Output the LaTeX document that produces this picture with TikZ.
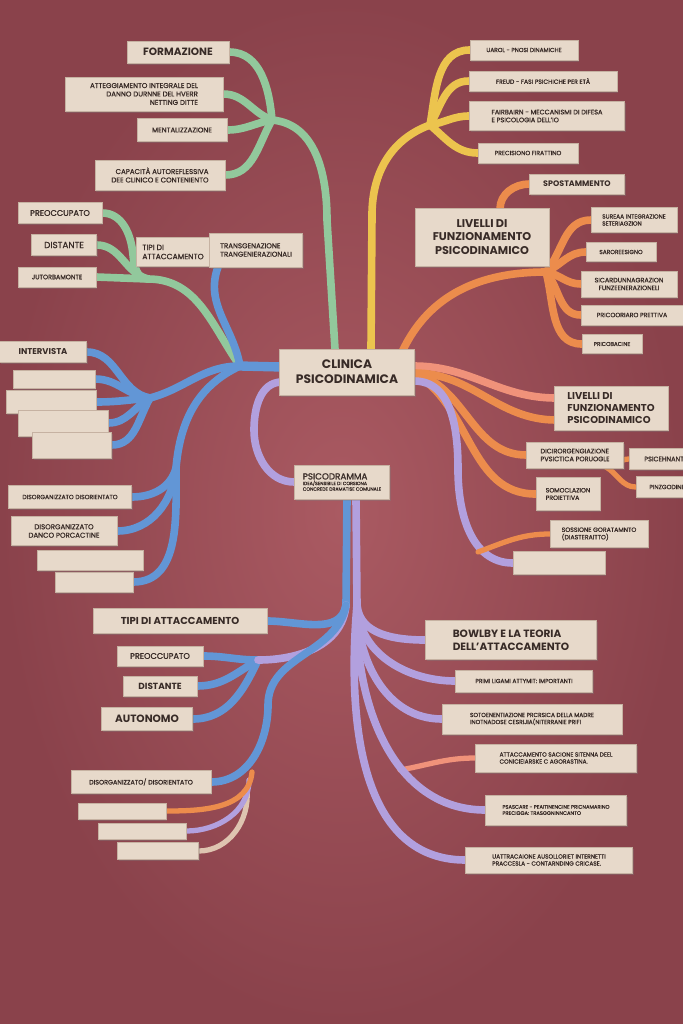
\documentclass[tikz,border=0pt]{standalone}
\usepackage{fontspec}
\setmainfont{Poppins}[UprightFeatures={FakeBold=1}]
\usetikzlibrary{shadows}
\pgfdeclarelayer{felt}
\pgfdeclarelayer{strands}
\pgfsetlayers{felt,strands,main}
\definecolor{feltmid}{RGB}{170,90,98}
\definecolor{feltedge}{RGB}{138,66,75}
\definecolor{cardbg}{RGB}{231,217,202}
\definecolor{cardedge}{RGB}{198,178,162}
\definecolor{ink}{RGB}{56,43,39}
\definecolor{sgreen}{RGB}{146,200,156}
\definecolor{syellow}{RGB}{236,196,78}
\definecolor{sorange}{RGB}{236,140,76}
\definecolor{ssalmon}{RGB}{240,146,122}
\definecolor{sblue}{RGB}{98,150,214}
\definecolor{spurple}{RGB}{178,160,222}
\definecolor{stan}{RGB}{222,196,176}

\begin{document}
\begin{tikzpicture}[x=0.03cm,y=-0.03cm,
  card/.style={fill=cardbg,draw=cardedge,line width=0.3pt,text=ink,align=center,inner sep=1pt,
    drop shadow={shadow xshift=1.2pt,shadow yshift=-1.6pt,opacity=0.35}},
  sz/.style 2 args={minimum width=#1*0.03cm,minimum height=#2*0.03cm},
  lbl/.style={font=\fontsize{#1}{\dimexpr#1pt*6/5\relax}\selectfont},
  heavy/.style={font=\fontsize{#1}{\dimexpr#1pt*6/5\relax}\selectfont\bfseries},
  strand/.style={line width=6.5pt,line cap=round},
  twig/.style={line width=4.5pt,line cap=round}]
\useasboundingbox (0,0) rectangle (683,1024);
\begin{pgfonlayer}{felt}
\shade[inner color=feltmid,outer color=feltedge] (0,0) rectangle (683,1024);
\end{pgfonlayer}

\node[card,sz={135}{46},heavy=10.5] (clin) at (347,372) {CLINICA\\PSICODINAMICA};

\node[card,sz={102}{22},heavy=9] (form) at (178,52) {FORMAZIONE};
\node[card,sz={158}{34},lbl=6,align=right] (atteg) at (144,94) {ATTEGGIAMENTO INTEGRALE DEL\\DANNO DURNNE DEL HVERR\\NETTING DITTE};
\node[card,sz={90}{23},lbl=6] (ment) at (182,130) {MENTALIZZAZIONE};
\node[card,sz={130}{30},lbl=6,align=right] (capac) at (160,175) {CAPACITÀ AUTOREFLESSIVA\\DEE CLINICO E CONTENIENTO};

\node[card,sz={84}{21},lbl=7] (preoA) at (60,213) {PREOCCUPATO};
\node[card,sz={65}{21},lbl=7.5] (distA) at (64,245) {DISTANTE};
\node[card,sz={78}{20},lbl=5.5] (jutA) at (57,277) {JUTORBAMONTE};
\node[card,sz={74}{29},lbl=6.5,align=left] (tipiA) at (173,252) {TIPI DI\\ATTACCAMENTO};
\node[card,sz={93}{34},lbl=6,align=left] (transA) at (256,250) {TRANSGENAZIONE\\TRANGENIERAZIONALI};

\node[card,sz={87}{21},heavy=7.2] (interv) at (43,352) {INTERVISTA};
\node[card,sz={82}{18}] (bl1) at (54,379) {};
\node[card,sz={90}{23}] (bl2) at (51,402) {};
\node[card,sz={90}{26}] (bl3) at (63,423) {};
\node[card,sz={79}{26}] (bl4) at (72,445) {};
\node[card,sz={123}{23},lbl=5.2] (disA) at (70,497) {DISORGANIZZATO DISORIENTATO};
\node[card,sz={106}{29},lbl=6] (disB) at (64,531) {DISORGANIZZATO\\DANCO PORCACTINE};
\node[card,sz={106}{20}] (bl5) at (90,560) {};
\node[card,sz={78}{20}] (bl6) at (94,582) {};

\node[card,sz={95}{34},align=left,lbl=4] (psico) at (342,482) {{\fontsize{7.5}{8}\selectfont PSICODRAMMA}\\IDEA/SENSIBILE DI CORSIONA\\CONCREDE DRAMATISE COMUNALE};

\node[card,sz={174}{25},heavy=8.6] (tipiB) at (180,621) {TIPI DI ATTACCAMENTO};
\node[card,sz={86}{20},lbl=7] (preoB) at (160,656) {PREOCCUPATO};
\node[card,sz={74}{20},heavy=7.6] (distB) at (160,686) {DISTANTE};
\node[card,sz={91}{23},heavy=9] (autoB) at (147,719) {AUTONOMO};
\node[card,sz={140}{23},lbl=5.5] (disC) at (141,782) {DISORGANIZZATO/ DISORIENTATO};
\node[card,sz={88}{16}] (bl7) at (122,811) {};
\node[card,sz={88}{16}] (bl8) at (142,831) {};
\node[card,sz={81}{17}] (bl9) at (158,851) {};

\node[card,sz={171}{39},heavy=9,align=left] (bowl) at (511,640) {BOWLBY E LA TEORIA\\DELL'ATTACCAMENTO};
\node[card,sz={137}{22},lbl=5] (primi) at (524,681) {PRIMI LIGAMI ATTYMIT: IMPORTANTI};
\node[card,sz={180}{30},lbl=5,align=left] (soto) at (532,719) {SOTOENENTIAZIONE PRCRSICA DELLA MADRE\\INOTNADOSE CESRIJIA(NITERRANIE PRIFI};
\node[card,sz={161}{28},lbl=5,align=left] (attac) at (556,758) {ATTACCAMENTO SACIONE SITENNA DEEL\\CONICIEIARSKE C AGORASTINA.};
\node[card,sz={141}{30},lbl=4.4,align=left] (psasc) at (556,810) {PSASCARE - PEAITINENCINE PRICNAMARINO\\PRECIGGA: TRASGGNINNCANTO};
\node[card,sz={167}{26},lbl=5,align=left] (uattr) at (549,860) {UATTRACAIONE AUSOLLORIET INTERNETTI\\PRACCESLA - CONTARNDING CRICASE.};

\node[card,sz={108}{20},lbl=5] (uarol) at (524,50) {UAROL - PNOSI DINAMICHE};
\node[card,sz={148}{20},lbl=5.2] (freud) at (543,81) {FREUD - FASI PSICHICHE PER ETÀ};
\node[card,sz={155}{29},lbl=5.6,align=left] (fairb) at (547,116) {FAIRBAIRN - MECCANISMI DI DIFESA\\E PSICOLOGIA DELL'IO};
\node[card,sz={100}{20},lbl=5.2] (preci) at (528,153) {PRECISIONO FIRATTINO};

\node[card,sz={95}{20},heavy=6.8] (spost) at (577,184) {SPOSTAMMENTO};
\node[card,sz={134}{58},heavy=9.6] (livA) at (482,237) {LIVELLI DI\\FUNZIONAMENTO\\PSICODINAMICO};
\node[card,sz={86}{25},lbl=5,align=left] (surea) at (634,220) {SUREAA INTEGRAZIONE\\SETERIAGZION};
\node[card,sz={70}{19},lbl=5] (saror) at (621,252) {SAROREESIGNO};
\node[card,sz={96}{26},lbl=5.5] (sicar) at (629,284) {SICARDUNNAGRAZION\\FUNZEENERAZIONELI};
\node[card,sz={102}{20},lbl=5.3] (prico) at (632,315) {PRICOORIARO PRETTIVA};
\node[card,sz={60}{19},lbl=4.8] (pricb) at (612,344) {PRICOBACINE};

\node[card,sz={114}{44},heavy=8.5,align=left] (livB) at (611,408) {LIVELLI DI\\FUNZIONAMENTO\\PSICODINAMICO};
\node[card,sz={97}{26},lbl=5.6,align=left] (dicir) at (575,455) {DICIRORGENGIAZIONE\\PVSICTICA PORUOGLE};
\node[card,sz={70}{21},lbl=5.6] (psich) at (664,459) {PSICEHNANT};
\node[card,sz={62}{21},lbl=5.2] (pinz) at (667,487) {PINZGODINE};
\node[card,sz={64}{33},lbl=5.3,align=left] (somoc) at (568,494) {SOMOCLAZION\\PROIETTIVA};
\node[card,sz={98}{27},lbl=5.3,align=left] (soss) at (599,534) {SOSSIONE GORATAMNTO\\(DIASTERAITTO)};
\node[card,sz={92}{23}] (bl10) at (559,563) {};

\coordinate (pg) at (335,349);
\coordinate (py) at (371,349);
\coordinate (po) at (402,352);
\coordinate (pb) at (282,367);
\coordinate (pp) at (282,382);
\coordinate (ps) at (414,366);
\coordinate (po2) at (414,373);
\coordinate (pv) at (414,381);
\coordinate (hub) at (240,366);
\coordinate (jg) at (272,120);
\coordinate (gb) at (327,220);
\coordinate (jga) at (148,279);
\coordinate (pbend) at (133,255);
\coordinate (tb) at (218,267);
\coordinate (jb) at (150,398);
\coordinate (jb2) at (176,468);
\coordinate (loopl) at (254,430);
\coordinate (stb) at (347,499);
\coordinate (stp) at (356,499);
\coordinate (sb) at (346,605);
\coordinate (sp) at (357,605);
\coordinate (jbl) at (258,660);
\coordinate (jdc) at (268,705);
\coordinate (e7) at (252,772);
\coordinate (e8) at (249,780);
\coordinate (e9) at (247,790);
\coordinate (sal) at (400,770);
\coordinate (jy) at (430,125);
\coordinate (yb) at (372,215);
\coordinate (jo) at (546,272);
\coordinate (lvtop) at (500,209);
\coordinate (lb1) at (556,398);
\coordinate (lb2) at (556,420);
\coordinate (dse) at (606,467);
\coordinate (vbend) at (458,470);
\coordinate (vso) at (478,552);

\begin{pgfonlayer}{strands}
\draw[strand,sgreen] (form.east) to[out=0,in=95] (jg);
\draw[strand,sgreen] (atteg.east) to[out=0,in=160] (jg);
\draw[strand,sgreen] (ment.east) to[out=0,in=190] (jg);
\draw[strand,sgreen] (capac.east) to[out=0,in=-120] (jg);
\draw[strand,sgreen] (jg) to[out=-5,in=90] (gb) -- (pg);

\draw[strand,sgreen] (preoA.east) to[out=0,in=95] (pbend) to[out=-85,in=180] (jga);
\draw[strand,sgreen] (distA.east) to[out=0,in=165] (jga);
\draw[strand,sgreen] (jutA.east) -- (jga);
\draw[strand,sgreen] (jga) to[out=0,in=125] (hub);
\draw[strand,sblue] (tb) to[out=-110,in=100] (hub);
\draw[strand,sblue,line width=8pt] (hub) -- (pb);

\draw[strand,sblue] (interv.east) to[out=0,in=170] (jb);
\draw[strand,sblue] (bl1.east) to[out=0,in=175] (jb);
\draw[strand,sblue] (bl2.east) to[out=0,in=185] (jb);
\draw[strand,sblue] (bl3.east) to[out=0,in=-150] (jb);
\draw[strand,sblue] (bl4.east) to[out=0,in=-120] (jb);
\draw[strand,sblue] (jb) to[out=15,in=180] (hub);
\draw[strand,sblue] (disA.east) to[out=0,in=-105] (jb2);
\draw[strand,sblue] (disB.east) to[out=0,in=-95] (jb2);
\draw[strand,sblue] (bl6.east) to[out=0,in=-90] (jb2);
\draw[strand,sblue] (jb2) to[out=85,in=205] (hub);

\draw[strand,spurple] (pp) to[out=180,in=90] (loopl) to[out=-90,in=180] (psico.west);
\draw[strand,sblue] (stb) -- (sb);
\draw[strand,spurple] (stp) -- (sp);

\draw[strand,sblue] (tipiB.east) to[out=0,in=-100] (sb);
\draw[strand,sblue] (preoB.east) to[out=0,in=180] (jbl);
\draw[strand,sblue] (distB.east) to[out=0,in=-150] (jbl);
\draw[strand,sblue] (autoB.east) to[out=0,in=-115] (jbl);
\draw[strand,spurple] (jbl) to[out=0,in=-95] (sb);
\draw[strand,sblue] (disC.east) to[out=0,in=-90] (jdc) to[out=90,in=-100] (sb);
\draw[twig,stan] (bl9.east) to[out=0,in=-85] (e9);
\draw[twig,spurple] (bl8.east) to[out=0,in=-90] (e8);
\draw[twig,sorange] (bl7.east) to[out=0,in=-95] (e7);

\draw[twig,ssalmon] (sal) to[out=10,in=180] (attac.west);
\draw[strand,spurple] (sp) to[out=-85,in=180] (bowl.west);
\draw[strand,spurple] (sp) to[out=-88,in=180] (primi.west);
\draw[strand,spurple] (sp) to[out=-90,in=180] (soto.west);
\draw[strand,spurple] (sp) to[out=-92,in=180] (psasc.west);
\draw[strand,spurple] (sp) to[out=-95,in=180] (uattr.west);

\draw[strand,syellow] (uarol.west) to[out=180,in=80] (jy);
\draw[strand,syellow] (freud.west) to[out=180,in=60] (jy);
\draw[strand,syellow] (fairb.west) to[out=180,in=10] (jy);
\draw[strand,syellow] (preci.west) to[out=180,in=-40] (jy);
\draw[strand,syellow] (jy) to[out=200,in=90] (yb) -- (py);

\draw[strand,sorange] (po) to[out=65,in=180] (jo);
\draw[strand,sorange] (jo) to[out=50,in=180] (surea.west);
\draw[strand,sorange] (jo) to[out=25,in=180] (saror.west);
\draw[strand,sorange] (jo) to[out=-10,in=180] (sicar.west);
\draw[strand,sorange] (jo) to[out=-50,in=180] (prico.west);
\draw[strand,sorange] (jo) to[out=-75,in=180] (pricb.west);
\draw[strand,sorange] (spost.west) to[out=180,in=90] (lvtop);

\draw[strand,ssalmon] (ps) to[out=0,in=180] (lb1);
\draw[strand,sorange] (po2) to[out=0,in=180] (lb2);
\draw[strand,sorange] (po2) to[out=-15,in=180] (dicir.west);
\draw[strand,sorange] (po2) to[out=-30,in=180] (somoc.west);
\draw[twig,sorange] (dse) to[out=0,in=180] (psich.west);
\draw[twig,sorange] (dse) to[out=-30,in=180] (pinz.west);
\draw[strand,spurple] (pv) to[out=0,in=90] (vbend) to[out=-90,in=180] (bl10.west);
\draw[twig,sorange] (vso) to[out=20,in=180] (soss.west);
\end{pgfonlayer}
\end{tikzpicture}
\end{document}
